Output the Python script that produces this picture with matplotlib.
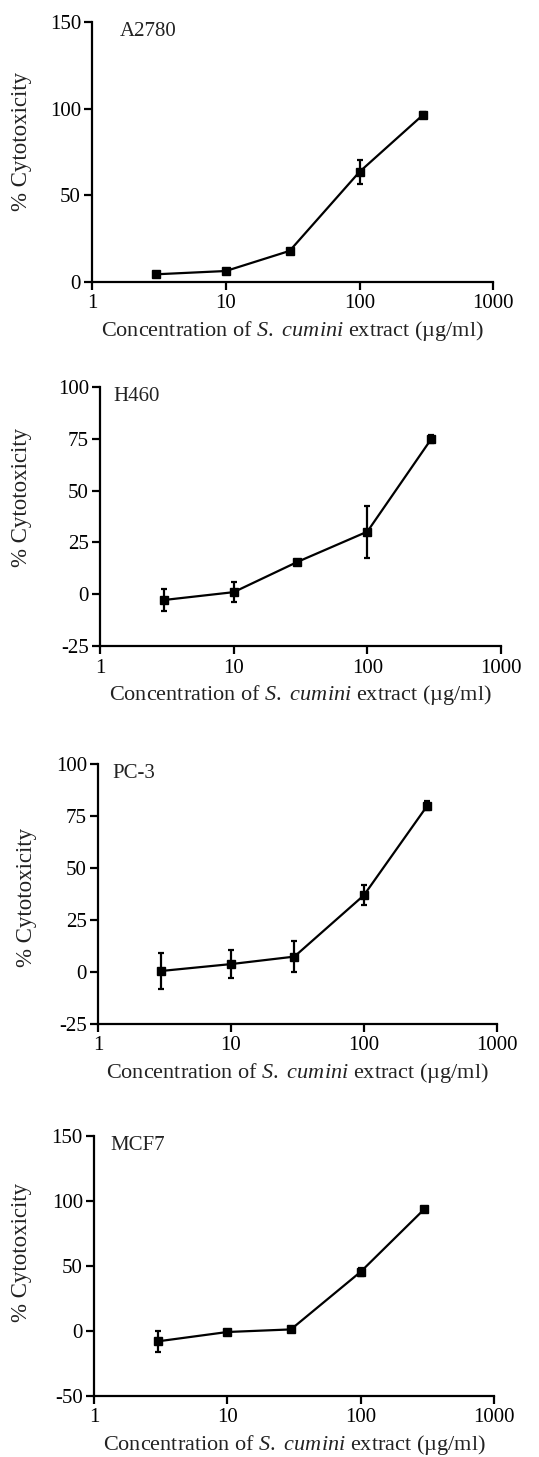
import numpy as np
from matplotlib import pyplot as plt

plt.rcParams["font.family"] = ["Liberation Serif", "DejaVu Serif"]
plt.rcParams["mathtext.fontset"] = "custom"
plt.rcParams["mathtext.rm"] = "Liberation Serif"
plt.rcParams["mathtext.it"] = "Liberation Serif:italic"
plt.rcParams["axes.unicode_minus"] = False

conc = [3, 10, 30, 100, 300]

cell_lines = ["A2780", "H460", "PC-3", "MCF7"]
a2780_mean = [4.4, 6.3, 17.9, 63.5, 96.5]
a2780_err = [1.0, 0.8, 1.2, 6.8, 1.5]
h460_mean = [-2.8, 1.0, 15.6, 30.2, 74.8]
h460_err = [5.2, 4.7, 0.8, 12.5, 2.0]
pc3_mean = [0.5, 3.8, 7.4, 36.9, 80.0]
pc3_err = [8.5, 6.8, 7.4, 4.8, 2.0]
mcf7_mean = [-8.0, -0.8, 1.2, 45.5, 93.7]
mcf7_err = [8.0, 0.8, 0.8, 3.0, 1.5]

y_limits = [(0, 150), (-25, 100), (-25, 100), (-50, 150)]
y_ticks = [[0, 50, 100, 150], [-25, 0, 25, 50, 75, 100],
           [-25, 0, 25, 50, 75, 100], [-50, 0, 50, 100, 150]]
x_ticks = [1, 10, 100, 1000]
x_ticklabels = ["1", "10", "100", "1000"]

means = [a2780_mean, h460_mean, pc3_mean, mcf7_mean]
errs = [a2780_err, h460_err, pc3_err, mcf7_err]

# axes boxes in figure fractions [left, bottom, width, height]
boxes = [
    [0.171, 0.8065, 0.744, 0.1785],
    [0.1855, 0.5566, 0.744, 0.1778],
    [0.1818, 0.2972, 0.740, 0.1784],
    [0.1744, 0.0419, 0.742, 0.1784],
]
name_x = [0.07, 0.033, 0.037, 0.04]
# y label anchor (axes fraction)
ylab_pos = [(-0.150, 0.542), (-0.170, 0.575), (-0.153, 0.488), (-0.1555, 0.554)]

xlabel = r"Concentration of $\it{S.\ cumini}$ extract (µg/ml)"

fig = plt.figure(figsize=(5.39, 14.57), dpi=100)

for name, m, e, ylim, yt, box, nx, yl in zip(cell_lines, means, errs, y_limits,
                                             y_ticks, boxes, name_x, ylab_pos):
    ax = fig.add_axes(box)
    ax.errorbar(conc, m, yerr=e, color="black", lw=1.6, marker="s", ms=5.5,
                capsize=2.5, capthick=1.6, elinewidth=1.6)
    ax.set_xscale("log")
    ax.set_xlim(1, 1000)
    ax.set_ylim(*ylim)
    ax.set_xticks(x_ticks)
    ax.set_xticklabels(x_ticklabels)
    ax.xaxis.set_minor_locator(plt.NullLocator())
    ax.set_yticks(yt)
    for s in ["top", "right"]:
        ax.spines[s].set_visible(False)
    for s in ["left", "bottom"]:
        ax.spines[s].set_linewidth(1.6)
    ax.tick_params(width=1.6, length=6, labelsize=15, direction="out", pad=2)
    ax.tick_params(axis="x", pad=3)
    ax.set_ylabel("% Cytotoxicity", fontsize=16.5, color="#222222")
    ax.yaxis.set_label_coords(*yl)
    ax.set_xlabel(xlabel, fontsize=16, labelpad=4, color="#222222")
    ax.text(nx, 1.0, name, transform=ax.transAxes, fontsize=15, va="top",
            ha="left", color="#222222")

fig.savefig("out.png", dpi=100)
